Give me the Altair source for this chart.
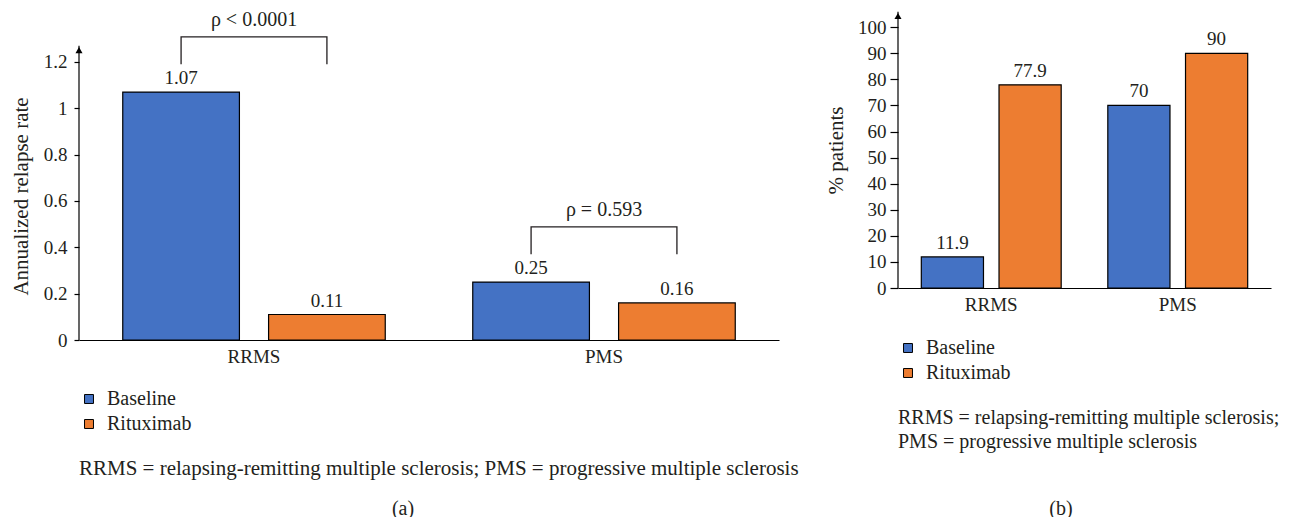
import altair as alt
import pandas as pd

# ---------------- data ----------------
categories = ["RRMS", "PMS"]
groups = ["Baseline", "Rituximab"]
colors = ["#4472C4", "#ED7D31"]

# panel (a): annualized relapse rate
arr_baseline = [1.07, 0.25]
arr_rituximab = [0.11, 0.16]
arr_label_baseline = ["1.07", "0.25"]
arr_label_rituximab = ["0.11", "0.16"]
arr_ticks = [0, 0.2, 0.4, 0.6, 0.8, 1.0, 1.2]

# p-value annotations (panel a)
p_texts = ["ρ < 0.0001", "ρ = 0.593"]
p_text_y = [1.38, 0.56]
bracket_top = [1.308, 0.488]
bracket_bottom = [1.19, 0.37]

# panel (b): % patients
pct_baseline = [11.9, 70]
pct_rituximab = [77.9, 90]
pct_label_baseline = ["11.9", "70"]
pct_label_rituximab = ["77.9", "90"]
pct_ticks = [0, 10, 20, 30, 40, 50, 60, 70, 80, 90, 100]

footnote_a = ["RRMS = relapsing-remitting multiple sclerosis; PMS = progressive multiple sclerosis"]
footnote_b = ["RRMS = relapsing-remitting multiple sclerosis;", "PMS = progressive multiple sclerosis"]
panel_a = ["(a)"]
panel_b = ["(b)"]

FONT = "Liberation Serif"
TXT = "#231F20"
FS = 19       # numbers / category labels
FS_WORD = 21  # axis titles / footnotes
FS_LEG = 20


def bars_df(cats, base, ritux, lb, lr):
    rows = []
    for c, b, r, l1, l2 in zip(cats, base, ritux, lb, lr):
        rows.append({"category": c, "group": groups[0], "value": b, "label": l1})
        rows.append({"category": c, "group": groups[1], "value": r, "label": l2})
    return pd.DataFrame(rows)


df_a = bars_df(categories, arr_baseline, arr_rituximab, arr_label_baseline, arr_label_rituximab)
df_b = bars_df(categories, pct_baseline, pct_rituximab, pct_label_baseline, pct_label_rituximab)

br_rows = []
for c, t, b in zip(categories, bracket_top, bracket_bottom):
    br_rows += [
        {"category": c, "group": groups[0], "value": b, "order": 0},
        {"category": c, "group": groups[0], "value": t, "order": 1},
        {"category": c, "group": groups[1], "value": t, "order": 2},
        {"category": c, "group": groups[1], "value": b, "order": 3},
    ]
df_br = pd.DataFrame(br_rows)
df_p = pd.DataFrame({"category": categories, "value": p_text_y, "text": p_texts})

x_enc = alt.X(
    "category:N", sort=categories, title=None,
    scale=alt.Scale(paddingInner=0, paddingOuter=0),
    axis=alt.Axis(labelAngle=0, ticks=False, domainColor="black",
                  domainWidth=1.2, labelPadding=7, labelFontSize=FS),
)
xo_enc = alt.XOffset("group:N", sort=groups,
                     scale=alt.Scale(paddingInner=0.2, paddingOuter=0.3))


def panel(df, width, height, ytop, ticks, fmt, ytitle, title_x, title_y,
          tick_size, label_pad, arrow_y, legend_y, foot, foot_y, foot_lh, foot_fs,
          plabel, plabel_x, extra=()):
    y_scale = alt.Scale(domain=[0, ytop], nice=False, zero=True)
    y_axis = alt.Axis(values=ticks, format=fmt, domain=False, grid=False,
                      tickSize=tick_size, tickColor="black", tickWidth=1.2,
                      labelPadding=label_pad, labelFontSize=FS,
                      labelOverlap=False, labelFlush=False,
                      titleFontSize=FS_WORD, titleX=title_x, titleY=title_y,
                      titleAngle=270, titleAlign="center", titleBaseline="middle")

    def Y(field="value"):
        return alt.Y(f"{field}:Q", scale=y_scale, axis=y_axis, title=ytitle)

    color = alt.Color(
        "group:N", sort=groups,
        scale=alt.Scale(domain=groups, range=colors),
        legend=alt.Legend(orient="none", legendX=0, legendY=legend_y, title=None,
                          direction="vertical", symbolType="square", symbolSize=80,
                          symbolStrokeColor="black", symbolStrokeWidth=1,
                          labelFontSize=FS_LEG, labelOffset=8, rowPadding=5,
                          labelFont=FONT, labelColor=TXT),
    )
    bars = alt.Chart(df).mark_bar(stroke="black", strokeWidth=1.2).encode(
        x=x_enc, xOffset=xo_enc, y=Y(), color=color,
    )
    labels = alt.Chart(df).mark_text(baseline="middle", dy=-14, fontSize=FS,
                                     font=FONT, color=TXT).encode(
        x=x_enc, xOffset=xo_enc, y=Y(), text="label:N",
    )
    ax_df = pd.DataFrame({"lo": [0], "hi": [arrow_y], "tip": [arrow_y * 0.985]})
    axis_line = alt.Chart(ax_df).mark_rule(color="black", strokeWidth=1.2).encode(
        x=alt.value(0), y=Y("lo"), y2="hi:Q",
    )
    arrow = alt.Chart(ax_df).mark_point(shape="triangle-up", filled=True, color="black",
                                        size=50, opacity=1).encode(
        x=alt.value(0), y=Y("tip"),
    )
    layers = [bars, labels, axis_line, arrow]
    for data, kind, mk, enc in extra:
        e = dict(enc)
        e["y"] = Y()
        base = alt.Chart(data)
        m = base.mark_line(**mk) if kind == "line" else base.mark_text(**mk)
        layers.append(m.encode(**e))
    foot_t = alt.Chart(pd.DataFrame({"t": [foot]})).mark_text(
        align="left", baseline="middle", fontSize=foot_fs,
        font=FONT, color=TXT, lineHeight=foot_lh).encode(
        x=alt.value(0), y=alt.value(foot_y), text="t:N")
    pl = alt.Chart(pd.DataFrame({"t": plabel})).mark_text(
        align="center", baseline="middle", fontSize=FS_LEG, font=FONT, color=TXT).encode(
        x=alt.value(plabel_x), y=alt.value(499), text="t:N")
    layers += [foot_t, pl]
    return alt.layer(*layers).properties(width=width, height=height)


extra_a = [
    (df_br, "line", dict(color=TXT, strokeWidth=1.3),
     dict(x=x_enc, xOffset=xo_enc, order="order:Q", detail="category:N")),
    (df_p, "text", dict(baseline="middle", fontSize=20, font=FONT, color=TXT),
     dict(x=x_enc, text="text:N")),
]

chart_a = panel(df_a, 700, 330, 1.424, arr_ticks, "~g", "Annualized relapse rate",
                -58, 186, 5, 7, 1.27, 379, footnote_a[0], 459, 24, FS_WORD,
                panel_a, 324, extra=extra_a)
chart_b = panel(df_b, 373, 278, 106.6, pct_ticks, "d", "% patients",
                -62, 140, 8, 4, 105.9, 328, footnote_b, 408, 24, 20,
                panel_b, 163)

chart = alt.hconcat(chart_a, chart_b, spacing=119, bounds="flush").resolve_scale(
    x="independent", y="independent", xOffset="independent"
).resolve_legend(
    color="independent"
).properties(
    padding={"left": 2, "top": 2, "right": 0, "bottom": 0}
).configure(
    font=FONT, background="white"
).configure_axis(
    labelFont=FONT, titleFont=FONT, labelColor=TXT, titleColor=TXT,
    titleFontWeight="normal",
).configure_view(strokeWidth=0)

chart.save("out.html", embed_options={"renderer": "svg", "actions": False})
